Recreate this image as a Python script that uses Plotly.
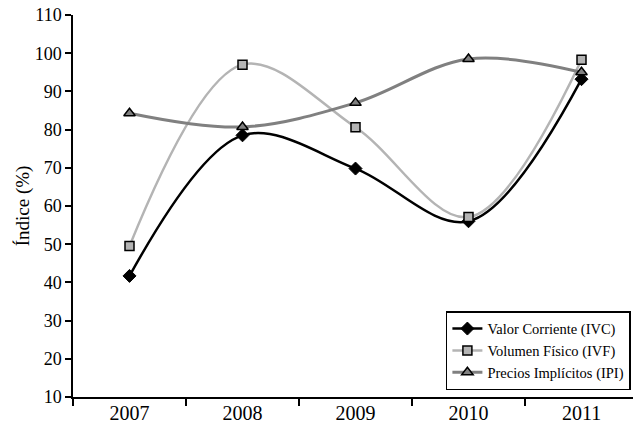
import plotly.graph_objects as go

years = ["2007", "2008", "2009", "2010", "2011"]
ivc = [41.7, 78.5, 69.8, 56.0, 93.2]
ivf = [49.5, 97.0, 80.6, 57.1, 98.3]
ipi = [84.3, 80.7, 87.0, 98.5, 95.0]

y_ticks = [10, 20, 30, 40, 50, 60, 70, 80, 90, 100, 110]

font_family = "Liberation Serif"

fig = go.Figure()
fig.add_trace(go.Scatter(
    x=years, y=ivc, name="Valor Corriente (IVC)", mode="lines+markers",
    line=dict(color="#000000", width=2.5, shape="spline", smoothing=1.0),
    marker=dict(symbol="diamond", size=10, color="#000000", line=dict(color="#000000", width=1))))
fig.add_trace(go.Scatter(
    x=years, y=ivf, name="Volumen Físico (IVF)", mode="lines+markers",
    line=dict(color="#b4b4b4", width=2.5, shape="spline", smoothing=1.0),
    marker=dict(symbol="square", size=9, color="#b4b4b4", line=dict(color="#000000", width=1.5))))
fig.add_trace(go.Scatter(
    x=years, y=ipi, name="Precios Implícitos (IPI)", mode="lines+markers",
    line=dict(color="#808080", width=3, shape="spline", smoothing=1.0),
    marker=dict(symbol="triangle-up", size=10, color="#808080", line=dict(color="#000000", width=1.5))))

# The page body adds an 8px offset, so the figure is sized to fit the window.
fig.update_layout(
    width=633, height=417,
    margin=dict(l=65, r=3, t=7, b=28, autoexpand=False),
    paper_bgcolor="white", plot_bgcolor="white",
    font=dict(family=font_family, size=18, color="#000000"),
    showlegend=True,
    legend=dict(
        x=0.66, y=0.018, xanchor="left", yanchor="bottom",
        bgcolor="white", bordercolor="#000000", borderwidth=1.5,
        font=dict(family=font_family, size=14.5, color="#000000"),
        tracegroupgap=0, itemwidth=30),
)
fig.update_xaxes(
    type="category", range=[-0.5, 4.5],
    showline=True, linecolor="#000000", linewidth=1.5,
    ticks="outside", tickson="boundaries", ticklen=7, tickcolor="#000000", tickwidth=1.5,
    showgrid=False, zeroline=False, automargin=False, ticklabeloverflow="allow",
    ticklabelstandoff=-3,
    tickfont=dict(family=font_family, size=20))
fig.update_yaxes(
    range=[10, 110], tickvals=y_ticks,
    showline=True, linecolor="#000000", linewidth=1.5,
    ticks="outside", ticklen=6, tickcolor="#000000", tickwidth=1.5,
    showgrid=False, zeroline=False, automargin=False, ticklabeloverflow="allow",
    title=dict(text="Índice (%)", font=dict(family=font_family, size=19), standoff=0),
    tickfont=dict(family=font_family, size=18))

fig.write_html("out.html")
